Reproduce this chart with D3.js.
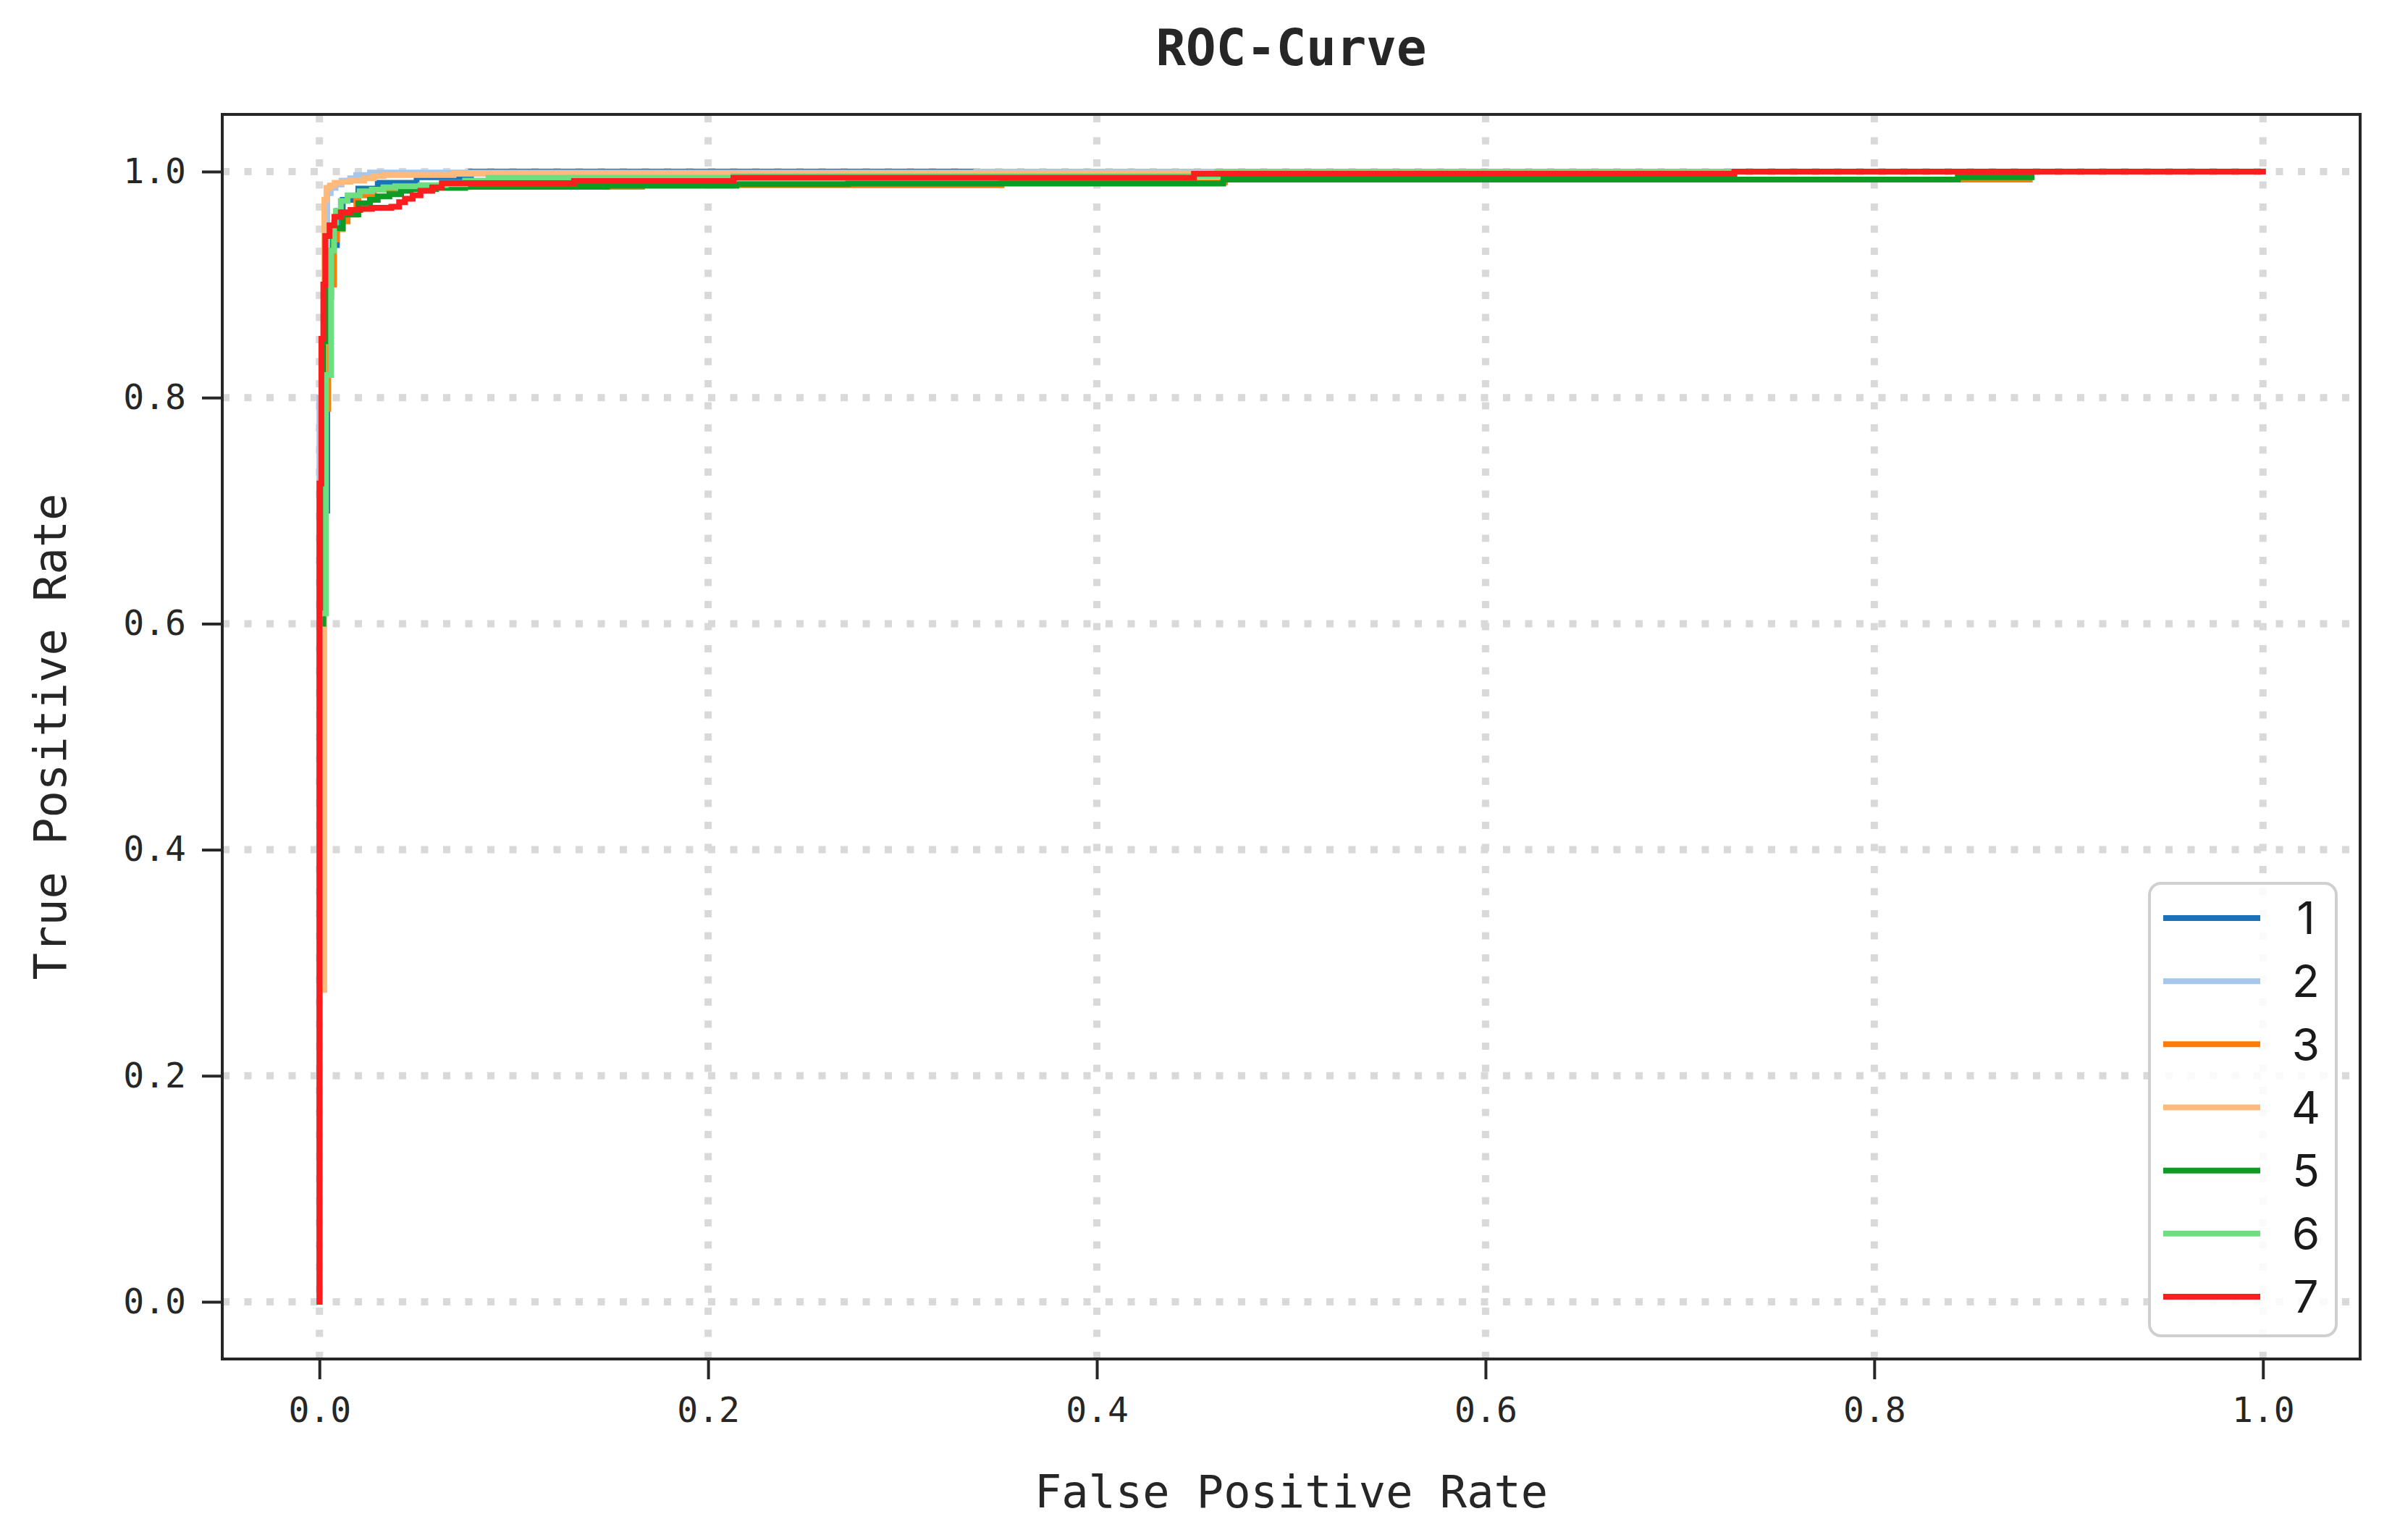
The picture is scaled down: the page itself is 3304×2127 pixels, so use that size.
<!DOCTYPE html>
<html>
<head>
<meta charset="utf-8">
<script src="https://cdn.jsdelivr.net/npm/d3@7"></script>
<style>
  html, body { margin: 0; padding: 0; background: #ffffff; }
  svg { display: block; }
</style>
</head>
<body>
<svg id="chart" width="3304" height="2127"></svg>
<script>
// ---------------- data ----------------
const seriesLabels = ["1", "2", "3", "4", "5", "6", "7"];
const seriesColors = ["#1a72b8", "#a6c6ea", "#ff7c0a", "#ffb97a", "#0c9c25", "#6edf80", "#fa1e1e"];

const xTickValues = [0, 0.2, 0.4, 0.6, 0.8, 1.0];
const yTickValues = [0, 0.2, 0.4, 0.6, 0.8, 1.0];

const fpr1 = [0, 0, 0.004, 0.0055, 0.006, 0.009, 0.012, 0.02, 0.03, 0.05, 0.078, 1];
const tpr1 = [0, 0.70, 0.85, 0.889, 0.935, 0.965, 0.975, 0.985, 0.99, 0.995, 1.0, 1.0];

const fpr2 = [0, 0, 0.004, 0.0058, 0.0083, 0.0114, 0.0158, 0.0189, 0.026, 0.338, 1];
const tpr2 = [0, 0.80, 0.981, 0.9855, 0.9887, 0.992, 0.994, 0.997, 0.9992, 1.0, 1.0];

const fpr3 = [0, 0, 0.003, 0.0045, 0.0075, 0.0089, 0.012, 0.0145, 0.019, 0.02, 0.028, 0.039, 0.166, 0.351, 0.466, 0.88, 1];
const tpr3 = [0, 0.67, 0.79, 0.90, 0.94, 0.949, 0.956, 0.962, 0.974, 0.979, 0.984, 0.9866, 0.988, 0.9905, 0.993, 1.0, 1.0];

const fpr4 = [0, 0, 0.0025, 0.0036, 0.0054, 0.0078, 0.0114, 0.016, 0.023, 0.028, 0.033, 0.069, 0.267, 0.60, 1];
const tpr4 = [0, 0.276, 0.975, 0.9855, 0.9876, 0.99, 0.991, 0.992, 0.994, 0.996, 0.997, 0.998, 0.9985, 1.0, 1.0];

const fpr5 = [0, 0, 0.002, 0.0045, 0.007, 0.012, 0.02, 0.026, 0.03, 0.036, 0.042, 0.047, 0.06, 0.075, 0.148, 0.2145, 0.272, 0.465, 0.843, 0.881, 1];
const tpr5 = [0, 0.60, 0.85, 0.93, 0.95, 0.962, 0.972, 0.975, 0.978, 0.98, 0.983, 0.9845, 0.9855, 0.9865, 0.9875, 0.989, 0.9895, 0.993, 0.995, 1.0, 1.0];

const fpr6 = [0, 0, 0.0034, 0.006, 0.0075, 0.0085, 0.011, 0.0145, 0.0207, 0.027, 0.033, 0.039, 0.052, 0.065, 0.075, 0.087, 0.213, 0.462, 1];
const tpr6 = [0, 0.609, 0.82, 0.93, 0.955, 0.965, 0.974, 0.979, 0.9825, 0.984, 0.986, 0.987, 0.988, 0.989, 0.992, 0.9945, 0.996, 1.0, 1.0];

const fpr7 = [0, 0, 0.001, 0.002, 0.003, 0.003, 0.0052, 0.0077, 0.011, 0.016, 0.021, 0.027, 0.037, 0.041, 0.044, 0.048, 0.052, 0.058, 0.063, 0.131, 0.213, 0.45, 0.728, 1];
const tpr7 = [0, 0.724, 0.852, 0.90, 0.926, 0.943, 0.9525, 0.96, 0.964, 0.966, 0.967, 0.968, 0.969, 0.973, 0.976, 0.979, 0.983, 0.986, 0.9897, 0.9917, 0.9945, 0.998, 1.0, 1.0];

const fprSeries = [fpr1, fpr2, fpr3, fpr4, fpr5, fpr6, fpr7];
const tprSeries = [tpr1, tpr2, tpr3, tpr4, tpr5, tpr6, tpr7];

const titleText = "ROC-Curve";
const xLabelText = "False Positive Rate";
const yLabelText = "True Positive Rate";

// ---------------- layout ----------------
const W = 3304, H = 2127;
const plot = { left: 307, right: 3260, top: 158, bottom: 1877 };
const monoFont = "'DejaVu Sans Mono', 'Liberation Mono', monospace";
const dark = "#262626";

const svg = d3.select("#chart");
svg.append("rect").attr("width", W).attr("height", H).attr("fill", "#ffffff");

const x = d3.scaleLinear().domain([-0.05, 1.05]).range([plot.left, plot.right]);
const y = d3.scaleLinear().domain([-0.0506, 1.0506]).range([plot.bottom, plot.top]);

// grid
const grid = svg.append("g");
grid.selectAll("line.gx").data(xTickValues).join("line")
  .attr("x1", d => x(d)).attr("x2", d => x(d))
  .attr("y1", plot.bottom).attr("y2", plot.top)
  .attr("stroke", "#d9d9d9").attr("stroke-width", 10)
  .attr("stroke-dasharray", "10,20.5");
grid.selectAll("line.gy").data(yTickValues).join("line")
  .attr("x1", plot.left).attr("x2", plot.right)
  .attr("y1", d => y(d)).attr("y2", d => y(d))
  .attr("stroke", "#d9d9d9").attr("stroke-width", 10)
  .attr("stroke-dasharray", "10,20.5");

// curves
const line = d3.line().x(d => x(d[0])).y(d => y(d[1])).curve(d3.curveStepAfter);
const curves = svg.append("g");
fprSeries.forEach((fp, i) => {
  const pts = fp.map((v, j) => [v, tprSeries[i][j]]);
  curves.append("path")
    .attr("d", line(pts))
    .attr("fill", "none")
    .attr("stroke", seriesColors[i])
    .attr("stroke-width", 8)
    .attr("stroke-linejoin", "miter")
    .attr("stroke-linecap", "square");
});

// frame
svg.append("rect")
  .attr("x", plot.left).attr("y", plot.top)
  .attr("width", plot.right - plot.left).attr("height", plot.bottom - plot.top)
  .attr("fill", "none").attr("stroke", dark).attr("stroke-width", 4);

// axes
const fmt = d3.format(".1f");
const xAxis = svg.append("g").attr("transform", `translate(0,${plot.bottom})`)
  .call(d3.axisBottom(x).tickValues(xTickValues).tickFormat(fmt).tickSize(28).tickPadding(25));
const yAxis = svg.append("g").attr("transform", `translate(${plot.left},0)`)
  .call(d3.axisLeft(y).tickValues(yTickValues).tickFormat(fmt).tickSize(28).tickPadding(22));
[xAxis, yAxis].forEach(a => {
  a.select(".domain").remove();
  a.selectAll(".tick line").attr("stroke", dark).attr("stroke-width", 4);
  a.selectAll(".tick text").attr("fill", dark)
    .style("font-family", monoFont).style("font-size", "48px");
});

// title & labels
svg.append("text").attr("x", (plot.left + plot.right) / 2).attr("y", 90)
  .attr("text-anchor", "middle").attr("fill", dark)
  .style("font-family", monoFont).style("font-size", "69px").style("font-weight", "bold")
  .text(titleText);
svg.append("text").attr("x", (plot.left + plot.right) / 2).attr("y", 2082)
  .attr("text-anchor", "middle").attr("fill", dark)
  .style("font-family", monoFont).style("font-size", "62px")
  .text(xLabelText);
svg.append("text")
  .attr("transform", `translate(91,${(plot.top + plot.bottom) / 2}) rotate(-90)`)
  .attr("text-anchor", "middle").attr("fill", dark)
  .style("font-family", monoFont).style("font-size", "62px")
  .text(yLabelText);

// legend
const legend = { left: 2969, top: 1220, right: 3227, bottom: 1845 };
svg.append("rect")
  .attr("x", legend.left).attr("y", legend.top)
  .attr("width", legend.right - legend.left).attr("height", legend.bottom - legend.top)
  .attr("rx", 16).attr("ry", 16)
  .attr("fill", "#ffffff").attr("fill-opacity", 0.85)
  .attr("stroke", "#cfcfcf").attr("stroke-width", 4);
const legendY = d3.scalePoint().domain(seriesLabels).range([1268, 1791]);
const lg = svg.append("g");
seriesLabels.forEach((lab, i) => {
  lg.append("line")
    .attr("x1", 2988).attr("x2", 3122)
    .attr("y1", legendY(lab)).attr("y2", legendY(lab))
    .attr("stroke", seriesColors[i]).attr("stroke-width", 8);
  lg.append("text")
    .attr("x", 3185).attr("y", legendY(lab))
    .attr("dy", "0.36em")
    .attr("text-anchor", "middle").attr("fill", "#1a1a1a")
    .style("font-family", "Inter, 'Noto Sans', sans-serif").style("font-size", "62px")
    .text(lab);
});
</script>
</body>
</html>
